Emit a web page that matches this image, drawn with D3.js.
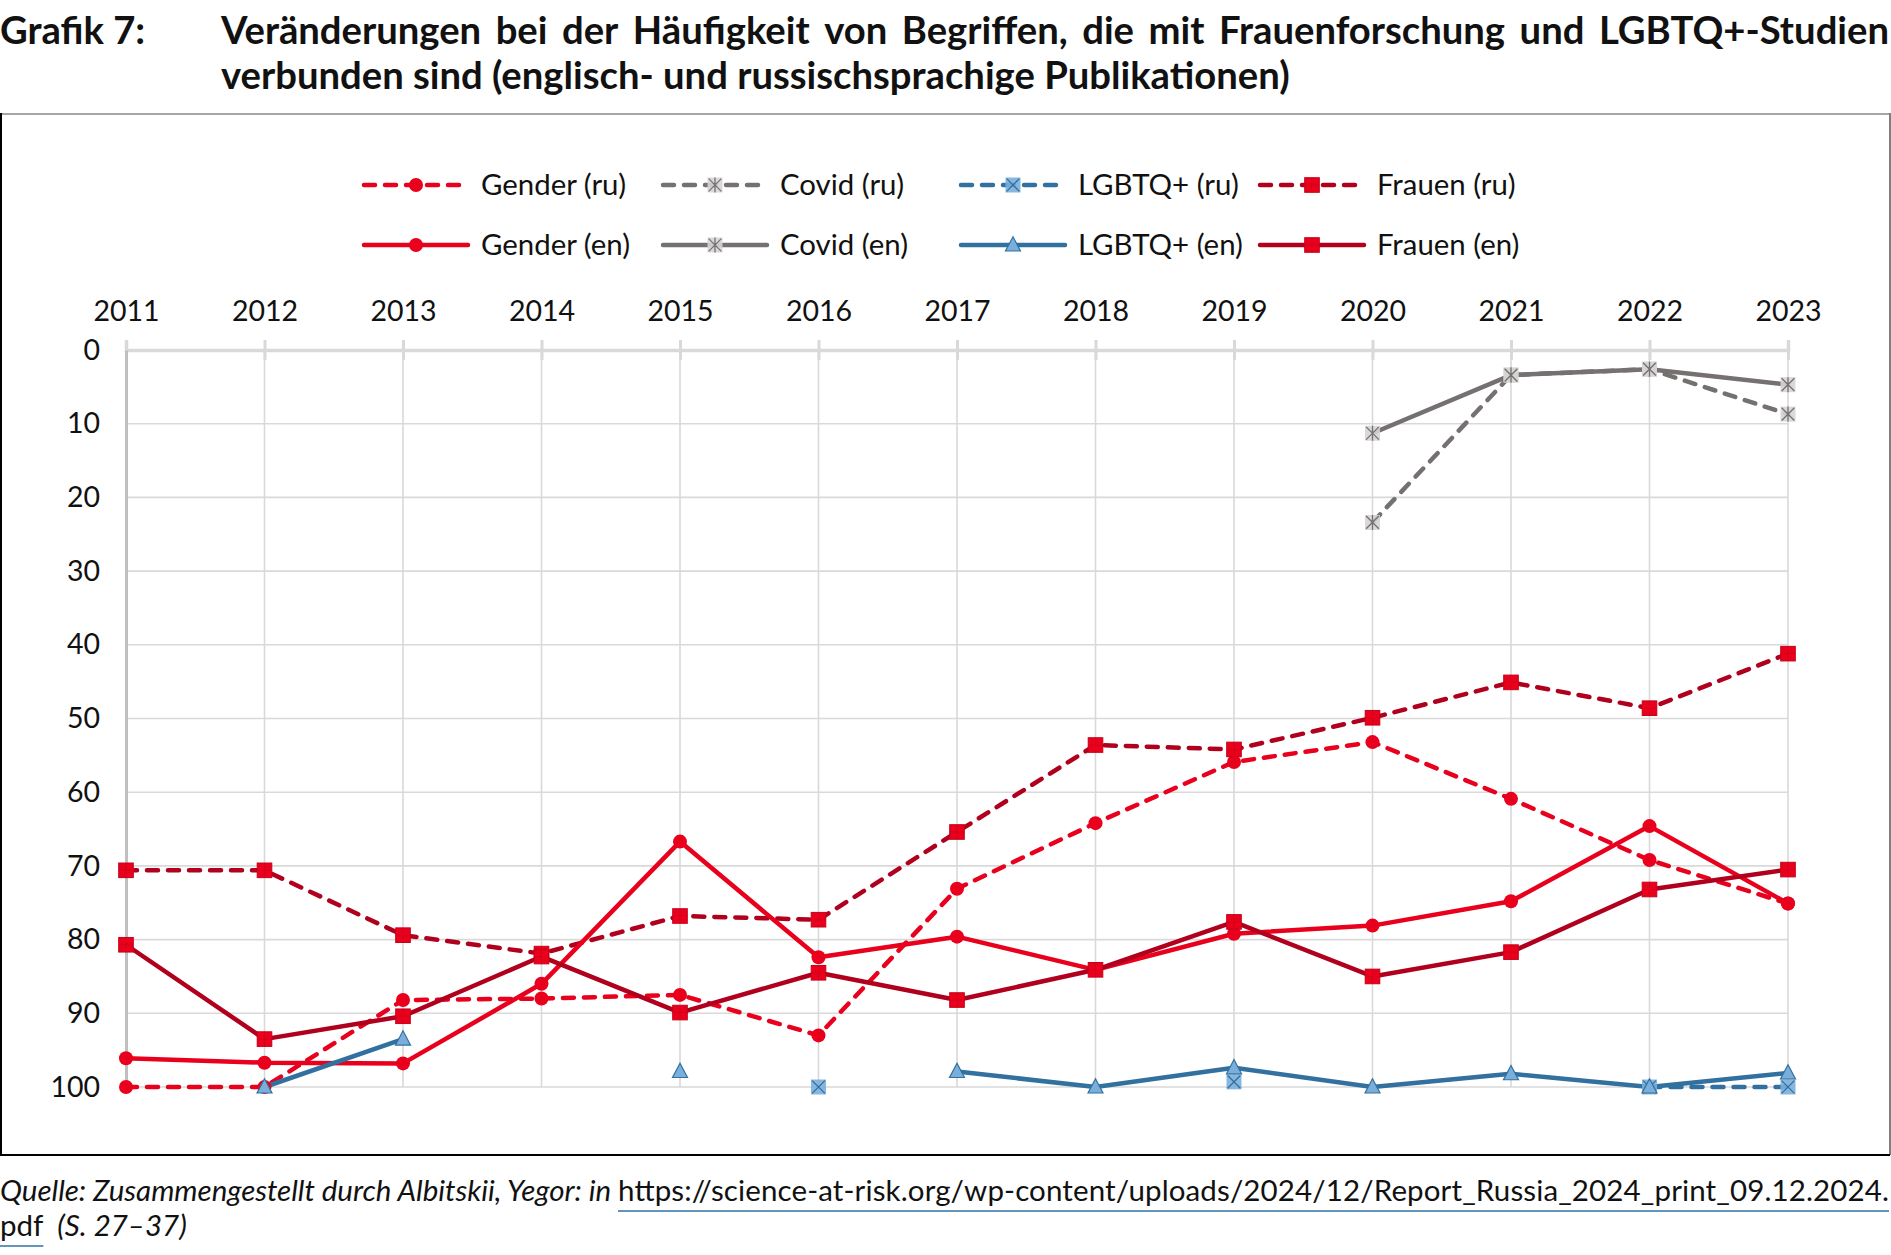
<!DOCTYPE html>
<html>
<head>
<meta charset="utf-8">
<script src="https://cdn.jsdelivr.net/npm/d3@7/dist/d3.min.js"></script>
<style>
  html, body { margin: 0; padding: 0; background: #fff; }
  svg { display: block; font-family: Lato, "Open Sans", sans-serif; }
</style>
</head>
<body>
<svg id="chart" width="1891" height="1255"></svg>
<script>
// ---------- DATA ----------
const years = [2011, 2012, 2013, 2014, 2015, 2016, 2017, 2018, 2019, 2020, 2021, 2022, 2023];
const yTicks = [0, 10, 20, 30, 40, 50, 60, 70, 80, 90, 100];

const genderRu = [100, 100, 88.2, 88.0, 87.5, 93.0, 73.1, 64.2, 55.9, 53.2, 60.9, 69.2, 75.1];
const genderEn = [96.1, 96.7, 96.8, 86.0, 66.7, 82.4, 79.6, 84.1, 79.2, 78.1, 74.8, 64.6, 75.1];
const covidRu  = [null, null, null, null, null, null, null, null, null, 23.4, 3.4, 2.6, 8.7];
const covidEn  = [null, null, null, null, null, null, null, null, null, 11.3, 3.4, 2.6, 4.7];
const lgbtRu   = [null, null, null, null, null, 100, null, null, 99.3, null, null, 100, 100];
const lgbtEn   = [null, 100, 93.5, null, 97.9, null, 97.9, 100, 97.4, 100, 98.2, 100, 98.1];
const frauenRu = [70.6, 70.6, 79.4, 81.9, 76.8, 77.3, 65.4, 53.6, 54.2, 49.9, 45.1, 48.6, 41.2];
const frauenEn = [80.7, 93.5, 90.4, 82.3, 89.9, 84.5, 88.2, 84.1, 77.6, 85.0, 81.7, 73.2, 70.5];

const seriesNames = ["Gender (ru)", "Covid (ru)", "LGBTQ+ (ru)", "Frauen (ru)",
                     "Gender (en)", "Covid (en)", "LGBTQ+ (en)", "Frauen (en)"];

const titleLabel = "Grafik 7:";
const titleLine1 = "Veränderungen bei der Häufigkeit von Begriffen, die mit Frauenforschung und LGBTQ+-Studien";
const titleLine2 = "verbunden sind (englisch- und russischsprachige Publikationen)";
const sourceItalic = "Quelle: Zusammengestellt durch Albitskii, Yegor: in ";
const sourceLink1 = "https://science-at-risk.org/wp-content/uploads/2024/12/Report_Russia_2024_print_09.12.2024.";
const sourceLink2 = "pdf";
const sourcePages = "  (S. 27–37)";

// ---------- STYLE ----------
const RED = "#e8001c", DARKRED = "#b0001e", GRAY = "#767171", GRAYFILL = "#d6d4d4",
      BLUE = "#31709f", BLUEFILL = "#7aaedb";

const series = [
  { name: seriesNames[0], data: genderRu, color: RED,     dash: true,  marker: "circle" },
  { name: seriesNames[1], data: covidRu,  color: GRAY,    dash: true,  marker: "star",  mfill: GRAYFILL, mstroke: GRAY },
  { name: seriesNames[2], data: lgbtRu,   color: BLUE,    dash: true,  marker: "xsq",   mfill: BLUEFILL, mstroke: BLUE },
  { name: seriesNames[3], data: frauenRu, color: DARKRED, dash: true,  marker: "square" },
  { name: seriesNames[4], data: genderEn, color: RED,     dash: false, marker: "circle" },
  { name: seriesNames[5], data: covidEn,  color: GRAY,    dash: false, marker: "star",  mfill: GRAYFILL, mstroke: GRAY },
  { name: seriesNames[6], data: lgbtEn,   color: BLUE,    dash: false, marker: "tri",   mfill: BLUEFILL, mstroke: BLUE },
  { name: seriesNames[7], data: frauenEn, color: DARKRED, dash: false, marker: "square" }
];

const svg = d3.select("#chart");

// ---------- TITLE ----------
const probe = svg.append("text").attr("font-size", 33).attr("font-weight", 700).text(titleLine2);
const titleSize = Math.min(40, 33 * 1069 / probe.node().getComputedTextLength());
probe.remove();

svg.append("text").attr("x", 0).attr("y", 44)
  .attr("font-size", titleSize).attr("font-weight", 700).attr("fill", "#111")
  .text(titleLabel);

(function () {
  const words = titleLine1.split(" ");
  const x0 = 221, x1 = 1889;
  const g = svg.append("g");
  const nodes = words.map(w => g.append("text").attr("y", 44)
    .attr("font-size", titleSize).attr("font-weight", 700).attr("fill", "#111").text(w));
  const widths = nodes.map(n => n.node().getComputedTextLength());
  const total = d3.sum(widths);
  const gap = Math.max(6, (x1 - x0 - total) / (words.length - 1));
  let x = x0;
  nodes.forEach((n, i) => { n.attr("x", x); x += widths[i] + gap; });
})();
svg.append("text").attr("x", 221).attr("y", 89)
  .attr("font-size", titleSize).attr("font-weight", 700).attr("fill", "#111")
  .text(titleLine2);

// ---------- FRAME ----------
svg.append("line").attr("x1", 0).attr("x2", 1890).attr("y1", 114).attr("y2", 114)
  .attr("stroke", "#a6a6a6").attr("stroke-width", 2);
svg.append("line").attr("x1", 1890).attr("x2", 1890).attr("y1", 113).attr("y2", 1155)
  .attr("stroke", "#7f7f7f").attr("stroke-width", 2);
svg.append("line").attr("x1", 1).attr("x2", 1).attr("y1", 113).attr("y2", 1156)
  .attr("stroke", "#000").attr("stroke-width", 2);
svg.append("line").attr("x1", 0).attr("x2", 1890).attr("y1", 1155).attr("y2", 1155)
  .attr("stroke", "#000").attr("stroke-width", 2);

// ---------- SCALES ----------
const x = d3.scalePoint().domain(years).range([126, 1788]);
const y = d3.scaleLinear().domain([0, 100]).range([350, 1087]);

const grid = svg.append("g");
grid.selectAll("line.h").data(yTicks.filter(t => t > 0)).join("line")
  .attr("x1", x(2011)).attr("x2", x(2023))
  .attr("y1", d => y(d)).attr("y2", d => y(d))
  .attr("stroke", "#d9d9d9").attr("stroke-width", 1.6);
grid.selectAll("line.v").data(years.slice(1)).join("line")
  .attr("x1", d => x(d)).attr("x2", d => x(d))
  .attr("y1", y(0)).attr("y2", y(100))
  .attr("stroke", "#d9d9d9").attr("stroke-width", 1.6);

const topAxis = d3.axisTop(x).tickSize(10).tickPadding(28).tickFormat(d3.format("d"));
const gTop = svg.append("g").attr("transform", `translate(0,${y(0)})`).call(topAxis);
gTop.select(".domain").attr("stroke", "#d9d9d9").attr("stroke-width", 3.5);
gTop.selectAll(".tick line").attr("stroke", "#d9d9d9").attr("stroke-width", 3).attr("y2", 10).attr("y1", -10);
gTop.selectAll(".tick text").attr("font-size", 28.5).attr("fill", "#111")
  .attr("font-family", "Lato, sans-serif").attr("dy", "0.3em");

const leftAxis = d3.axisLeft(y).tickValues(yTicks).tickSize(0).tickPadding(26);
const gLeft = svg.append("g").attr("transform", `translate(${x(2011)},0)`).call(leftAxis);
gLeft.select(".domain").attr("stroke", "#bfbfbf").attr("stroke-width", 3);
gLeft.selectAll(".tick text").attr("font-size", 28.5).attr("fill", "#111")
  .attr("font-family", "Lato, sans-serif");

// ---------- MARKERS ----------
function drawMarker(g, s, cx, cy, scale) {
  const k = scale || 1;
  if (s.marker === "circle") {
    g.append("circle").attr("cx", cx).attr("cy", cy).attr("r", 7 * k).attr("fill", RED);
  } else if (s.marker === "square") {
    const h = 7.3 * k;
    g.append("rect").attr("x", cx - h).attr("y", cy - h).attr("width", 2 * h).attr("height", 2 * h)
      .attr("fill", RED).attr("stroke", "#c8001a").attr("stroke-width", 1);
    g.append("line").attr("x1", cx - h).attr("x2", cx + h).attr("y1", cy).attr("y2", cy)
      .attr("stroke", "#c8001a").attr("stroke-width", 0.8).attr("opacity", 0.6);
    g.append("line").attr("x1", cx).attr("x2", cx).attr("y1", cy - h).attr("y2", cy + h)
      .attr("stroke", "#c8001a").attr("stroke-width", 0.8).attr("opacity", 0.6);
  } else if (s.marker === "star" || s.marker === "xsq") {
    const h = 7.5 * k;
    g.append("rect").attr("x", cx - h).attr("y", cy - h).attr("width", 2 * h).attr("height", 2 * h)
      .attr("fill", s.mfill).attr("opacity", 0.9);
    const d = h * 0.85;
    g.append("path").attr("d", `M${cx - d},${cy - d}L${cx + d},${cy + d}M${cx - d},${cy + d}L${cx + d},${cy - d}`
      + (s.marker === "star" ? `M${cx},${cy - h}L${cx},${cy + h}` : ""))
      .attr("stroke", s.mstroke).attr("stroke-width", 1.3).attr("fill", "none");
  } else if (s.marker === "tri") {
    const h = 7.5 * k;
    g.append("path").attr("d", `M${cx},${cy - h * 1.1}L${cx + h},${cy + h * 0.8}L${cx - h},${cy + h * 0.8}Z`)
      .attr("fill", s.mfill).attr("stroke", s.mstroke).attr("stroke-width", 1.2);
  }
}

// ---------- LINES ----------
const lineGen = d3.line()
  .defined(d => d.v !== null)
  .x(d => x(d.year)).y(d => y(d.v));

const plot = svg.append("g");
series.forEach(s => {
  const pts = years.map((yr, i) => ({ year: yr, v: s.data[i] }));
  plot.append("path").datum(pts)
    .attr("d", lineGen)
    .attr("fill", "none")
    .attr("stroke", s.color)
    .attr("stroke-width", 4.5)
    .attr("stroke-linejoin", "round")
    .attr("stroke-linecap", s.dash ? "round" : "butt")
    .attr("stroke-dasharray", s.dash ? "11,10" : null);
});
series.forEach(s => {
  const g = plot.append("g");
  years.forEach((yr, i) => {
    if (s.data[i] !== null) drawMarker(g, s, x(yr), y(s.data[i]));
  });
});

// ---------- LEGEND ----------
const legCols = [362, 661, 959, 1258];
const legRows = [185, 245];
const legend = svg.append("g");
series.forEach((s, i) => {
  const cx = legCols[i % 4], cy = legRows[Math.floor(i / 4)];
  const g = legend.append("g");
  g.append("line").attr("x1", cx + 2).attr("x2", cx + 106).attr("y1", cy).attr("y2", cy)
    .attr("stroke", s.color).attr("stroke-width", 4.5)
    .attr("stroke-linecap", "round")
    .attr("stroke-dasharray", s.dash ? "11,10" : null);
  drawMarker(g, s, cx + 54, cy, 1);
  g.append("text").attr("x", cx + 119).attr("y", cy).attr("dy", "0.35em")
    .attr("font-size", 29.4).attr("fill", "#111").text(s.name);
});

// ---------- SOURCE ----------
const srcSize = 29.5;
const src1 = svg.append("text").attr("x", 0).attr("y", 1201).attr("font-size", srcSize).attr("fill", "#111");
src1.append("tspan").attr("font-style", "italic").attr("letter-spacing", -0.15).text(sourceItalic);
src1.append("tspan").text(sourceLink1);
(function () {
  const w = src1.node().getComputedTextLength();
  if (Math.abs(w - 1889) > 2) src1.attr("textLength", 1889).attr("lengthAdjust", "spacing");
})();
const src2 = svg.append("text").attr("x", 0).attr("y", 1236).attr("font-size", srcSize).attr("fill", "#111");
src2.append("tspan").text(sourceLink2);
src2.append("tspan").attr("font-style", "italic").attr("xml:space", "preserve").text(sourcePages);

(function () {
  const n = src1.node();
  const start = n.getStartPositionOfChar(sourceItalic.length).x;
  const last = n.getNumberOfChars() - 1;
  const end = n.getEndPositionOfChar(last).x;
  svg.append("line").attr("x1", start).attr("x2", end).attr("y1", 1211).attr("y2", 1211)
    .attr("stroke", "#31709f").attr("stroke-width", 1.5);
  const w2 = src2.node().getSubStringLength(0, sourceLink2.length);
  svg.append("line").attr("x1", 0).attr("x2", w2).attr("y1", 1246).attr("y2", 1246)
    .attr("stroke", "#31709f").attr("stroke-width", 1.5);
})();
</script>
</body>
</html>
